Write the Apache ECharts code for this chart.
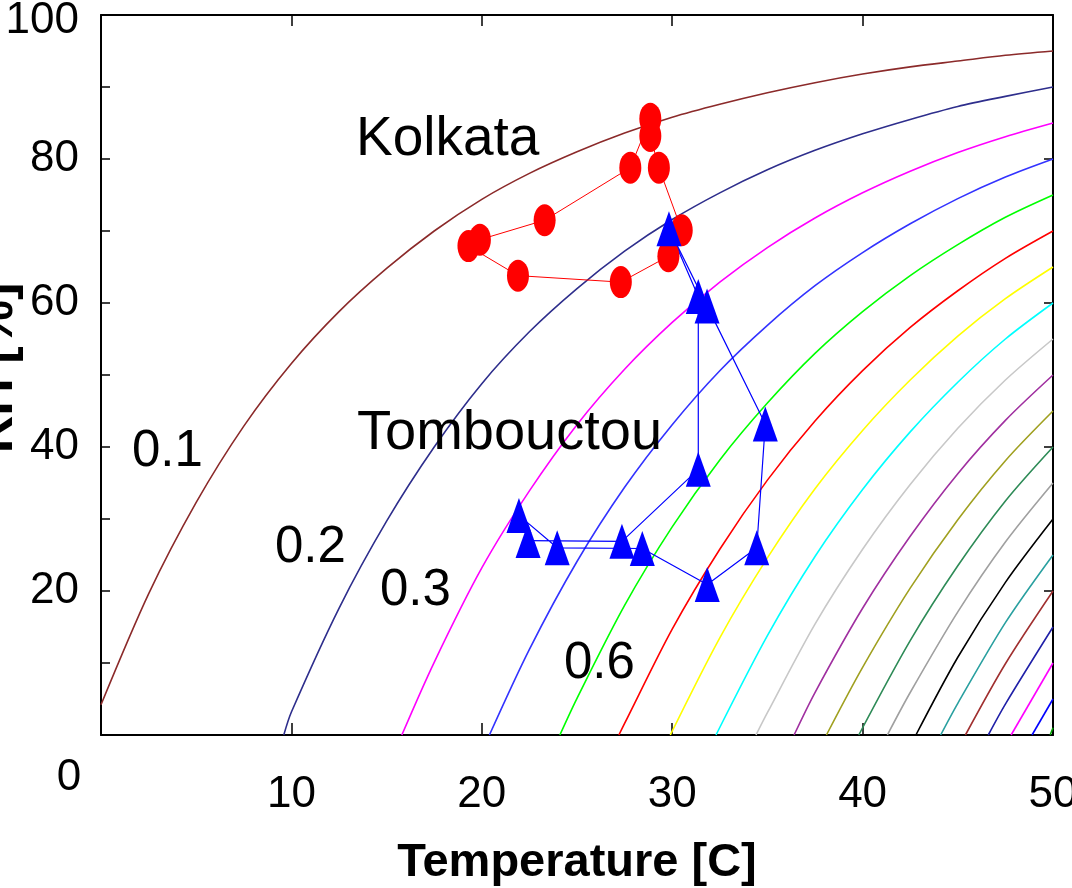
<!DOCTYPE html>
<html lang="en">
<head>
    <meta charset="UTF-8">
    <title>RH vs Temperature</title>
    <style>
        html, body { margin: 0; padding: 0; background: #fff; }
        #main { width: 1072px; height: 888px; }
    </style>
</head>
<body>
<div id="main"></div>
<script src="https://cdn.jsdelivr.net/npm/echarts@6/dist/echarts.min.js"></script>
<script>
    // iso-lines, [temperature C, RH %] (left/top to right/bottom)
    var c1 = [[0, 4.2], [2.5, 19.6], [5, 32.3], [7.5, 42.9], [10, 51.6], [12.5, 58.8], [15, 64.8], [17.5, 70.0], [20, 74.4], [22.5, 78.0], [25, 81.0], [27.5, 83.6], [30, 85.8], [32.5, 87.6], [35, 89.2], [37.5, 90.6], [40, 91.8], [42.5, 92.8], [45, 93.6], [47.5, 94.4], [50, 95.0]];
    var c2 = [[9.6, 0], [10, 3.2], [12.5, 17.6], [15, 29.7], [17.5, 40.0], [20, 48.8], [22.5, 56.0], [25, 62.0], [27.5, 67.2], [30, 71.6], [32.5, 75.3], [35, 78.5], [37.5, 81.2], [40, 83.5], [42.5, 85.5], [45, 87.3], [47.5, 88.7], [50, 90.0]];
    var c3 = [[15.8, 0], [17.5, 10.1], [20, 23.2], [22.5, 33.9], [25, 43.1], [27.5, 50.8], [30, 57.3], [32.5, 62.9], [35, 67.7], [37.5, 71.8], [40, 75.3], [42.5, 78.3], [45, 80.9], [47.5, 83.1], [50, 85.0]];
    var c4 = [[20.4, 0], [22.5, 11.9], [25, 24.1], [27.5, 34.4], [30, 43.1], [32.5, 50.6], [35, 56.9], [37.5, 62.4], [40, 67.0], [42.5, 71.0], [45, 74.5], [47.5, 77.5], [50, 80.0]];
    var c5 = [[24.1, 0], [25, 5.1], [27.5, 18.0], [30, 28.9], [32.5, 38.2], [35, 46.1], [37.5, 53.0], [40, 58.8], [42.5, 63.8], [45, 68.1], [47.5, 71.9], [50, 75.0]];
    var c6 = [[27.2, 0], [27.5, 1.6], [30, 14.7], [32.5, 25.8], [35, 35.4], [37.5, 43.6], [40, 50.6], [42.5, 56.6], [45, 61.7], [47.5, 66.2], [50, 70.0]];
    var c7 = [[29.9, 0], [32.5, 13.5], [35, 24.6], [37.5, 34.2], [40, 42.3], [42.5, 49.3], [45, 55.4], [47.5, 60.6], [50, 65.0]];
    var c8 = [[32.3, 0], [35, 13.8], [37.5, 24.8], [40, 34.1], [42.5, 42.1], [45, 49.0], [47.5, 55.0], [50, 60.0]];
    var c9 = [[34.4, 0], [35, 3.1], [37.5, 15.4], [40, 25.8], [42.5, 34.8], [45, 42.6], [47.5, 49.3], [50, 55.0]];
    var c10 = [[36.4, 0], [37.5, 5.9], [40, 17.6], [42.5, 27.6], [45, 36.3], [47.5, 43.7], [50, 50.0]];
    var c11 = [[38.1, 0], [40, 9.4], [42.5, 20.4], [45, 29.9], [47.5, 38.1], [50, 45.0]];
    var c12 = [[39.8, 0], [42.5, 13.1], [45, 23.5], [47.5, 32.5], [50, 40.0]];
    var c13 = [[41.3, 0], [42.5, 5.9], [45, 17.1], [47.5, 26.8], [50, 35.0]];
    var c14 = [[42.8, 0], [45, 10.8], [47.5, 21.2], [50, 30.0]];
    var c15 = [[44.1, 0], [45, 4.4], [47.5, 15.6], [50, 25.0]];
    var c16 = [[45.4, 0], [47.5, 9.9], [50, 20.0]];
    var c17 = [[46.6, 0], [47.5, 4.3], [50, 15.0]];
    var c18 = [[47.8, 0], [50, 10.0]];
    var c19 = [[48.9, 0], [50, 5.0]];
    var c20 = [[49.85, 0], [50, 1.0]];

    var curveColors = ['#8b2a2a', '#2e2e8c', '#ff00ff', '#3333ff', '#00ff00', '#ff0000', '#ffff00', '#00ffff', '#c8c8c8', '#a030a0',
        '#a0a020', '#2e8b57', '#a0a0a0', '#000000', '#2aa0a0', '#a03030', '#2020a8', '#ff00ff', '#0000ff', '#00a000'];

    // monthly points
    var kolkataT = [19.3, 21.9, 27.3, 29.8, 30.5, 29.3, 28.85, 28.85, 27.8, 23.3, 19.9];
    var kolkataRH = [67.9, 63.8, 62.9, 66.5, 70.1, 78.8, 83.2, 85.6, 78.8, 71.5, 68.8];
    var tombT = [21.95, 23.96, 28.43, 31.84, 34.44, 34.89, 31.83, 29.83, 31.37, 31.37, 27.36, 22.43];
    var tombRH = [30.5, 26.0, 25.9, 20.9, 26.0, 43.2, 59.6, 70.3, 60.9, 36.9, 26.9, 27.0];

    var isoLabels = ['0.1', '0.2', '0.3', '0.6'];

    var font = "'Liberation Sans', Arial, Helvetica, sans-serif";
    var curves = [c1, c2, c3, c4, c5, c6, c7, c8, c9, c10, c11, c12, c13, c14, c15, c16, c17, c18, c19, c20];

    function pairs(xs, ys) {
        return xs.map(function (x, i) { return [x, ys[i]]; });
    }

    var series = curves.map(function (d, i) {
        return {
            type: 'line',
            data: d,
            showSymbol: false,
            smooth: 0.3,
            silent: true,
            lineStyle: { color: curveColors[i], width: 1.6 }
        };
    });

    series.push({
        name: 'Kolkata',
        type: 'line',
        data: pairs(kolkataT, kolkataRH),
        symbol: 'circle',
        symbolSize: [22, 32],
        itemStyle: { color: '#ff0000' },
        lineStyle: { color: '#ff0000', width: 1 }
    });
    series.push({
        name: 'Tombouctou',
        type: 'line',
        data: pairs(tombT, tombRH),
        symbol: 'triangle',
        symbolSize: [25, 35],
        itemStyle: { color: '#0000ff' },
        lineStyle: { color: '#0000ff', width: 1.2 }
    });

    function txt(text, x, y, size, weight, rot, align) {
        return {
            type: 'text',
            x: x,
            y: y,
            rotation: rot || 0,
            z: 100,
            style: {
                text: text,
                font: (weight || 'normal') + ' ' + size + 'px ' + font,
                fill: '#000',
                align: align || 'left',
                textAlign: align || 'left',
                verticalAlign: 'middle',
                textVerticalAlign: 'middle'
            }
        };
    }

    var option = {
        animation: false,
        backgroundColor: '#fff',
        grid: { left: 101, top: 15, right: 19, bottom: 153, containLabel: false, outerBoundsMode: 'none' },
        xAxis: [{
            type: 'value',
            min: 0,
            max: 50,
            interval: 10,
            position: 'bottom',
            name: 'Temperature [C]',
            nameLocation: 'middle',
            nameGap: 105,
            nameTextStyle: { fontSize: 47, fontWeight: 'bold', color: '#000', fontFamily: font },
            axisLine: { onZero: false, lineStyle: { color: '#000', width: 2 } },
            axisTick: { inside: true, length: 12, lineStyle: { color: '#000', width: 1.5 } },
            axisLabel: {
                fontSize: 44, color: '#000', fontFamily: font, margin: 38,
                formatter: function (v) { return v === 0 ? '' : v; }
            },
            splitLine: { show: false }
        }, {
            type: 'value',
            min: 0,
            max: 50,
            interval: 10,
            position: 'top',
            axisLine: { onZero: false, lineStyle: { color: '#000', width: 2 } },
            axisTick: { inside: true, length: 11, lineStyle: { color: '#000', width: 1.5 } },
            axisLabel: { show: false },
            splitLine: { show: false }
        }],
        yAxis: [{
            type: 'value',
            min: 0,
            max: 100,
            interval: 10,
            position: 'left',
            axisLine: { onZero: false, lineStyle: { color: '#000', width: 2 } },
            axisTick: { inside: true, length: 9, lineStyle: { color: '#000', width: 1.5 } },
            axisLabel: {
                fontSize: 44, color: '#000', fontFamily: font, margin: 22,
                // 100 is drawn below as a graphic, nudged down like the original
                formatter: function (v) { return (v % 20 === 0 && v > 0 && v < 100) ? v : ''; }
            },
            splitLine: { show: false }
        }, {
            type: 'value',
            min: 0,
            max: 100,
            interval: 20,
            position: 'right',
            axisLine: { onZero: false, lineStyle: { color: '#000', width: 2 } },
            axisTick: { inside: true, length: 9, lineStyle: { color: '#000', width: 1.5 } },
            axisLabel: { show: false },
            splitLine: { show: false }
        }],
        graphic: [
            txt('Kolkata', 356, 140, 55),
            txt('Tombouctou', 357, 434, 56),
            txt(isoLabels[0], 132, 452, 51),
            txt(isoLabels[1], 275, 548, 51),
            txt(isoLabels[2], 380, 591, 51),
            txt(isoLabels[3], 564, 664, 51),
            txt('100', 79, 21, 44, 'normal', 0, 'right'),
            txt('0', 69, 778, 44, 'normal', 0, 'center'),
            txt('RH [%]', -2, 368, 52, 'bold', Math.PI / 2, 'center')
        ],
        series: series
    };

    var myChart = echarts.init(document.getElementById('main'));
    myChart.setOption(option);
</script>
</body>
</html>
